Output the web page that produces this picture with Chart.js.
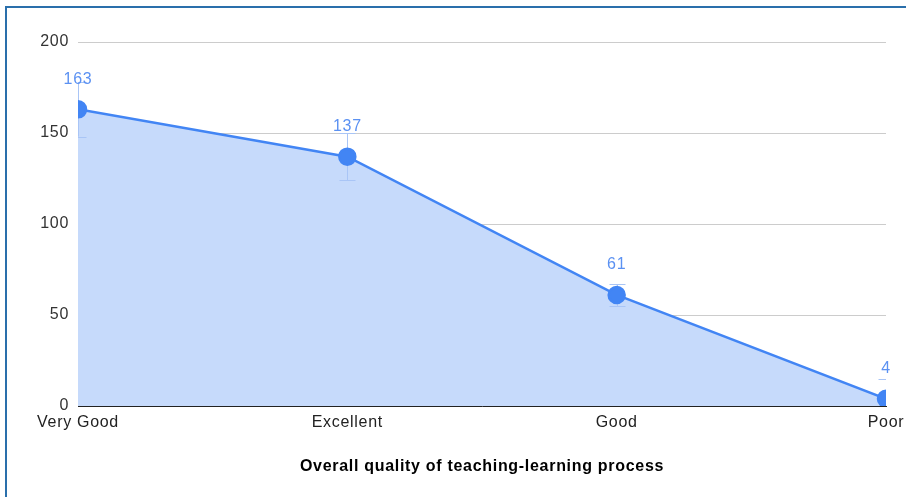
<!DOCTYPE html>
<html>
<head>
<meta charset="utf-8">
<script src="https://cdn.jsdelivr.net/npm/chart.js@4/dist/chart.umd.min.js"></script>
<style>
  html, body { margin: 0; padding: 0; background: #fff; }
  #wrap { position: relative; width: 906px; height: 497px; overflow: hidden; }
  #frame { position: absolute; left: 5px; top: 6px; width: 960px; height: 560px; border: 2px solid #2a6fab; box-sizing: border-box; pointer-events: none; }
  canvas { position: absolute; left: 0; top: 0; }
</style>
</head>
<body>
<div id="wrap">
  <canvas id="c" width="906" height="497"></canvas>
  <div id="frame"></div>
</div>
<script>
const categories = ["Very Good", "Excellent", "Good", "Poor"];
const counts = [163, 137, 61, 4];
const errLow = [148, 124, 55, -7];
const errHigh = [178, 150, 67, 15];
const yTicks = [0, 50, 100, 150, 200];

const FONT = "'Liberation Sans', Arial, sans-serif";
const SPACING = '0.7px';

const errorBars = {
  id: 'errorBars',
  beforeLayout(chart) { chart.ctx.letterSpacing = SPACING; },
  beforeDraw(chart) { chart.ctx.letterSpacing = SPACING; },
  beforeDatasetDraw(chart) {
    const ctx = chart.ctx, a = chart.chartArea;
    const ys = chart.scales.y, xs = chart.scales.x;
    ctx.save();
    ctx.beginPath();
    ctx.rect(a.left, a.top - 60, a.right - a.left, a.bottom - a.top + 60);
    ctx.clip();
    ctx.strokeStyle = '#a9c5f6';
    ctx.lineWidth = 1;
    categories.forEach((c, i) => {
      const x = Math.round(xs.getPixelForValue(i)) + 0.5;
      const y1 = ys.getPixelForValue(errLow[i]);
      const y2 = ys.getPixelForValue(errHigh[i]);
      ctx.beginPath();
      ctx.moveTo(x, y1); ctx.lineTo(x, y2);
      ctx.moveTo(x - 8, Math.round(y1) + 0.5); ctx.lineTo(x + 8, Math.round(y1) + 0.5);
      ctx.moveTo(x - 8, Math.round(y2) + 0.5); ctx.lineTo(x + 8, Math.round(y2) + 0.5);
      ctx.stroke();
    });
    ctx.restore();
  },
  afterDatasetsDraw(chart) {
    const ctx = chart.ctx;
    const ys = chart.scales.y, xs = chart.scales.x;
    ctx.save();
    ctx.letterSpacing = SPACING;
    ctx.font = '16px ' + FONT;
    ctx.fillStyle = '#5b91f2';
    ctx.textAlign = 'center';
    ctx.textBaseline = 'middle';
    counts.forEach((v, i) => {
      const x = xs.getPixelForValue(i);
      const y = ys.getPixelForValue(v);
      ctx.fillText(String(v), x, y - 30);
    });
    ctx.restore();
  }
};

new Chart(document.getElementById('c'), {
  type: 'line',
  data: {
    labels: categories,
    datasets: [{
      data: counts,
      borderColor: '#4285f4',
      backgroundColor: '#c6dafb',
      fill: 'origin',
      borderWidth: 2.5,
      pointRadius: 8,
      pointHoverRadius: 8,
      pointBackgroundColor: '#4285f4',
      pointBorderColor: '#4285f4',
      tension: 0,
      clip: 0
    }]
  },
  options: {
    responsive: false,
    animation: false,
    devicePixelRatio: 1,
    layout: { padding: { left: 0, right: 20, top: 42, bottom: 0 } },
    plugins: { legend: { display: false }, tooltip: { enabled: false } },
    scales: {
      x: {
        offset: false,
        grid: { display: false, drawTicks: false },
        border: { display: true, color: '#222', width: 1 },
        ticks: { color: '#222', font: { family: FONT, size: 16 }, padding: 7, maxRotation: 0, autoSkip: false },
        title: { display: true, text: 'Overall quality of teaching-learning process', color: '#000', font: { family: FONT, size: 16, weight: 'bold' }, padding: { top: 20, bottom: 21 } },
        afterFit(s) { s.height = 91; s.paddingLeft = 0; s.paddingRight = 0; }
      },
      y: {
        min: 0, max: 200,
        afterBuildTicks(s) { s.ticks = yTicks.map(v => ({ value: v })); },
        grid: { color: '#cccccc', drawTicks: false, lineWidth: 1 },
        border: { display: false },
        ticks: { color: '#333', font: { family: FONT, size: 16 }, padding: 9 },
        afterFit(s) { s.width = 78; }
      }
    }
  },
  plugins: [errorBars]
});
</script>
</body>
</html>
